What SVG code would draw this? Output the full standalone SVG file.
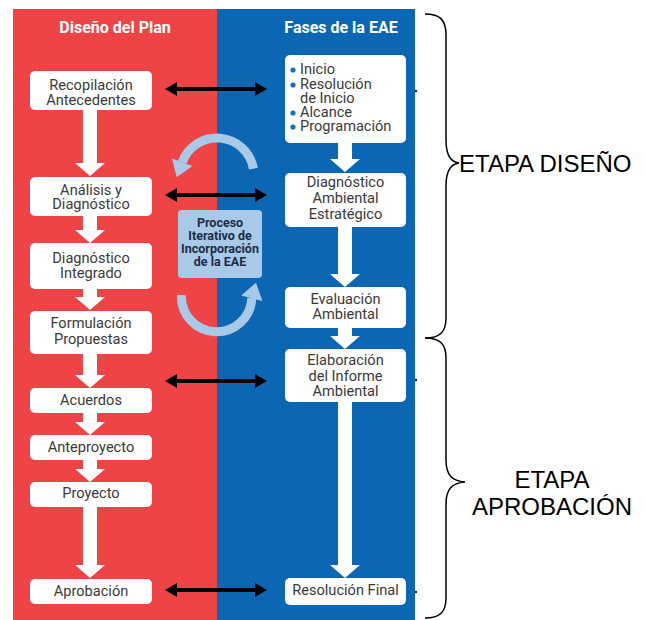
<svg xmlns="http://www.w3.org/2000/svg" width="646" height="620" viewBox="0 0 646 620">
<style>
.box{fill:#ffffff}
.t{font-family:Roboto,"Noto Sans",sans-serif;font-size:14.6px;fill:#3a3a3a;text-anchor:middle}
.tl{font-family:Roboto,"Noto Sans",sans-serif;font-size:14.6px;fill:#3a3a3a}
.title{font-family:Roboto,"Noto Sans",sans-serif;font-size:16px;font-weight:bold;fill:#ffffff;text-anchor:middle}
.proc{font-family:Roboto,"Noto Sans",sans-serif;font-size:12.5px;font-weight:bold;fill:#1d2b45;text-anchor:middle}
.etapa{font-family:"Liberation Sans",Arial,sans-serif;font-size:24px;fill:#000000}
.wa{fill:#ffffff}
.ba{fill:#000000}
.arc{fill:none;stroke:#a9c9e8;stroke-width:9}
.arh{fill:#a9c9e8}
.brace{fill:none;stroke:#000000;stroke-width:1.5}
.bul{fill:#1a6fba}
</style>
<rect x="0" y="0" width="646" height="620" fill="#ffffff"/>
<g id="panels">
<rect x="13" y="9" width="204" height="611" fill="#ee4446"/>
<rect x="217" y="9" width="198" height="611" fill="#0b67b3"/>
<text class="title" x="115" y="33">Diseño del Plan</text>
<text class="title" x="341" y="33">Fases de la EAE</text>
</g>
<g id="connectors">
<path class="wa" d="M83,110 L97,110 L97,163 L105,163 L90,176 L75,163 L83,163 Z"/>
<path class="wa" d="M83,216 L97,216 L97,230 L105,230 L90,243 L75,230 L83,230 Z"/>
<path class="wa" d="M83,289 L97,289 L97,297 L105,297 L90,310 L75,297 L83,297 Z"/>
<path class="wa" d="M83,354 L97,354 L97,375 L105,375 L90,388 L75,375 L83,375 Z"/>
<path class="wa" d="M83,413 L97,413 L97,422 L105,422 L90,435 L75,422 L83,422 Z"/>
<path class="wa" d="M83,460 L97,460 L97,469 L105,469 L90,482 L75,469 L83,469 Z"/>
<path class="wa" d="M83,507 L97,507 L97,565 L105,565 L90,578 L75,565 L83,565 Z"/>
<path class="wa" d="M338,143 L352,143 L352,159 L360,159 L345,172 L330,159 L338,159 Z"/>
<path class="wa" d="M338,227 L352,227 L352,274 L360,274 L345,287 L330,274 L338,274 Z"/>
<path class="wa" d="M338,328 L352,328 L352,336 L360,336 L345,349 L330,336 L338,336 Z"/>
<path class="wa" d="M338,402 L352,402 L352,565 L360,565 L345,578 L330,565 L338,565 Z"/>
<path class="ba" d="M165,89 L177,82 L177,87 L255,87 L255,82 L267,89 L255,96 L255,91 L177,91 L177,96 Z"/>
<path class="ba" d="M165,195 L177,188 L177,193 L255,193 L255,188 L267,195 L255,202 L255,197 L177,197 L177,202 Z"/>
<path class="ba" d="M165,381 L177,374 L177,379 L255,379 L255,374 L267,381 L255,388 L255,383 L177,383 L177,388 Z"/>
<path class="ba" d="M165,590 L177,583 L177,588 L255,588 L255,583 L267,590 L255,597 L255,592 L177,592 L177,597 Z"/>
<path class="arc" d="M253.4,168.6 A37,37 0 0 0 182.2,162.3"/>
<path class="arh" d="M192.5,166 L176.7,177.3 L171.9,158.5 Z"/>
<path class="arc" d="M181.5,295 A35,35 0 0 0 251.8,298.3"/>
<path class="arh" d="M262.4,301.1 L256,282.8 L241.2,295.5 Z"/>
<circle cx="416" cy="91" r="1.2" fill="#222"/>
<circle cx="416" cy="380" r="1.2" fill="#222"/>
<circle cx="416" cy="592" r="1.2" fill="#222"/>
</g>
<g id="recopilacion"><rect class="box" x="30" y="71" width="122" height="39" rx="5"/><text class="t" x="91" y="90">Recopilación</text><text class="t" x="91" y="105">Antecedentes</text></g>
<g id="analisis"><rect class="box" x="30" y="177" width="122" height="39" rx="5"/><text class="t" x="91" y="195">Análisis y</text><text class="t" x="91" y="209">Diagnóstico</text></g>
<g id="diagnostico-integrado"><rect class="box" x="30" y="243" width="122" height="46" rx="5"/><text class="t" x="91" y="263">Diagnóstico</text><text class="t" x="91" y="278">Integrado</text></g>
<g id="formulacion"><rect class="box" x="30" y="311" width="122" height="43" rx="5"/><text class="t" x="91" y="328">Formulación</text><text class="t" x="91" y="344">Propuestas</text></g>
<g id="acuerdos"><rect class="box" x="30" y="388" width="122" height="25" rx="5"/><text class="t" x="91" y="405">Acuerdos</text></g>
<g id="anteproyecto"><rect class="box" x="30" y="435" width="122" height="25" rx="5"/><text class="t" x="91" y="452">Anteproyecto</text></g>
<g id="proyecto"><rect class="box" x="30" y="482" width="122" height="25" rx="5"/><text class="t" x="91" y="498">Proyecto</text></g>
<g id="aprobacion"><rect class="box" x="30" y="579" width="122" height="25" rx="5"/><text class="t" x="91" y="596">Aprobación</text></g>
<g id="inicio"><rect class="box" x="285" y="55" width="121" height="88" rx="5"/>
<circle class="bul" cx="293" cy="70" r="2.6"/><text class="tl" x="300" y="74">Inicio</text>
<circle class="bul" cx="293" cy="85" r="2.6"/><text class="tl" x="300" y="89">Resolución</text>
<text class="tl" x="300" y="103">de Inicio</text>
<circle class="bul" cx="293" cy="113" r="2.6"/><text class="tl" x="300" y="117">Alcance</text>
<circle class="bul" cx="293" cy="127" r="2.6"/><text class="tl" x="300" y="131">Programación</text></g>
<g id="diagnostico-ambiental"><rect class="box" x="285" y="173" width="121" height="54" rx="5"/><text class="t" x="345.5" y="187">Diagnóstico</text><text class="t" x="345.5" y="203">Ambiental</text><text class="t" x="345.5" y="219">Estratégico</text></g>
<g id="evaluacion"><rect class="box" x="285" y="287" width="121" height="41" rx="5"/><text class="t" x="345.5" y="304">Evaluación</text><text class="t" x="345.5" y="319">Ambiental</text></g>
<g id="elaboracion"><rect class="box" x="285" y="349" width="121" height="53" rx="5"/><text class="t" x="345.5" y="365">Elaboración</text><text class="t" x="345.5" y="381">del Informe</text><text class="t" x="345.5" y="396">Ambiental</text></g>
<g id="resolucion-final"><rect class="box" x="285" y="578" width="121" height="27" rx="5"/><text class="t" x="345.5" y="595">Resolución Final</text></g>
<g id="proceso"><rect x="178" y="210" width="84" height="68" rx="4" fill="#a9c9e8"/><text class="proc" x="220" y="227">Proceso</text><text class="proc" x="220" y="240">Iterativo de</text><text class="proc" x="220" y="253">Incorporación</text><text class="proc" x="220" y="265.5">de la EAE</text></g>
<g id="etapa-diseno"><path class="brace" d="M425,14 C440,14 446,20 446,35 L446,140 C446,155 450,162 459,163 C450,164 446,171 446,186 L446,318 C446,332 440,338 425,338"/><text class="etapa" x="459" y="172">ETAPA DISEÑO</text></g>
<g id="etapa-aprobacion"><path class="brace" d="M425,338 C440,338 446,344 446,358 L446,460 C446,475 452,481 465,482 C452,483 446,489 446,504 L446,598 C446,612 440,618 425,618"/><text class="etapa" x="552" y="488" text-anchor="middle">ETAPA</text><text class="etapa" x="552" y="515" text-anchor="middle">APROBACIÓN</text></g>
</svg>
